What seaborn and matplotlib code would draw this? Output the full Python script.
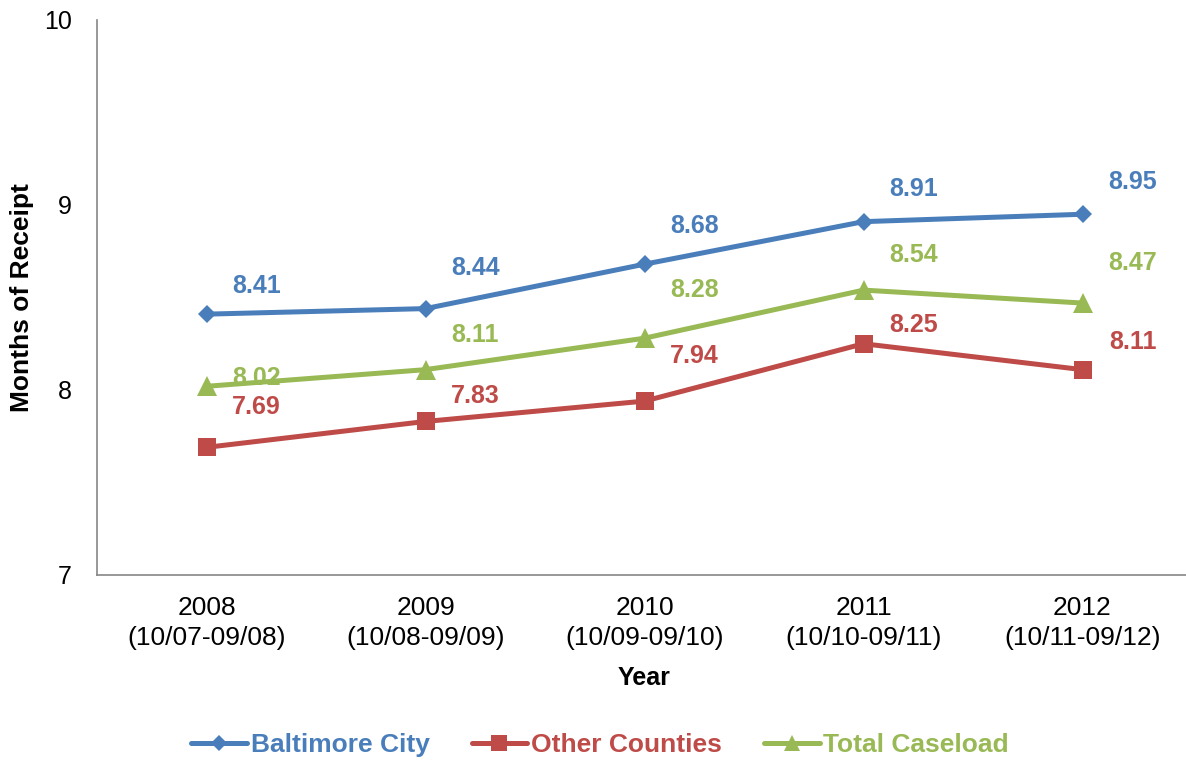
import pandas as pd
import numpy as np
import matplotlib
matplotlib.use("Agg")
import matplotlib.pyplot as plt
import seaborn as sns

# Data
years = ["2008\n(10/07-09/08)", "2009\n(10/08-09/09)", "2010\n(10/09-09/10)",
         "2011\n(10/10-09/11)", "2012\n(10/11-09/12)"]
baltimore = [8.41, 8.44, 8.68, 8.91, 8.95]
other_counties = [7.69, 7.83, 7.94, 8.25, 8.11]
total_caseload = [8.02, 8.11, 8.28, 8.54, 8.47]
series_names = ["Baltimore City", "Other Counties", "Total Caseload"]

# Styling
colors = {"Baltimore City": "#4A7EBB", "Other Counties": "#BE4B48", "Total Caseload": "#98B954"}
markers = {"Baltimore City": "D", "Other Counties": "s", "Total Caseload": "^"}
marker_sizes = {"Baltimore City": 9.5, "Other Counties": 13.5, "Total Caseload": 14}
# label offsets in pixels (dy up) relative to each point
label_dy = {
    "Baltimore City": [28, 41, 38, 33, 32],
    "Other Counties": [40, 25, 45, 19, 28],
    "Total Caseload": [8, 35, 48, 35, 40],
}

sns.set_style("white")
plt.rcParams["font.family"] = ["Liberation Sans", "DejaVu Sans"]
plt.rcParams["text.color"] = "black"
plt.rcParams["axes.labelcolor"] = "black"
plt.rcParams["xtick.color"] = "black"
plt.rcParams["ytick.color"] = "black"

df = pd.DataFrame({
    "x": list(range(len(years))) * 3,
    "value": baltimore + other_counties + total_caseload,
    "series": sum([[s] * len(years) for s in series_names], []),
})

fig = plt.figure(figsize=(11.86, 7.61), dpi=100)
ax = fig.add_axes([97 / 1186, 1 - 575 / 761, (1192 - 97) / 1186, (575 - 20) / 761])

for name in series_names:
    sub = df[df["series"] == name]
    sns.lineplot(data=sub, x="x", y="value", ax=ax, color=colors[name],
                 marker=markers[name], markersize=marker_sizes[name],
                 markeredgecolor=colors[name], markeredgewidth=0,
                 linewidth=3.6, label=name)
    for (xi, yi), dy in zip(zip(sub["x"], sub["value"]), label_dy[name]):
        ax.annotate(f"{yi:.2f}", (xi, yi), xytext=(50 * 0.72, dy * 0.72),
                    textcoords="offset points", ha="center", va="center",
                    color=colors[name], fontsize=18, fontweight="bold")

ax.set_xlim(-0.5, 4.5)
ax.set_ylim(7, 10)
ax.set_yticks([7, 8, 9, 10])
ax.set_xticks(range(len(years)))
ax.set_xticklabels(years, fontsize=19, linespacing=1.3)
ax.set_xticks(np.arange(-0.5, 5, 1), minor=True)
ax.tick_params(axis="x", which="major", length=0, pad=15)
ax.tick_params(axis="x", which="minor", length=6, width=1.2, color="#868686", direction="out")
ax.tick_params(axis="y", length=6, width=1.2, color="#868686", direction="out", labelsize=18, pad=12)
for s in ["top", "right"]:
    ax.spines[s].set_visible(False)
for s in ["left", "bottom"]:
    ax.spines[s].set_color("#868686")
    ax.spines[s].set_linewidth(1.2)

ax.set_xlabel("Year", fontsize=18, fontweight="bold", labelpad=12)
ax.set_ylabel("Months of Receipt", fontsize=19, fontweight="bold", labelpad=7)

handles, labels = ax.get_legend_handles_labels()
ax.get_legend().remove()
leg = fig.legend(handles, labels, loc="center", ncol=3, frameon=False,
                 bbox_to_anchor=(0.506, 1 - 745 / 761), handlelength=2.1, handletextpad=0.15,
                 columnspacing=1.6, prop={"size": 19, "weight": "bold"})
for txt, name in zip(leg.get_texts(), labels):
    txt.set_color(colors[name])
for h in leg.legend_handles:
    h.set_markersize(h.get_markersize() * 0.85)

fig.savefig("out.png", dpi=100)
